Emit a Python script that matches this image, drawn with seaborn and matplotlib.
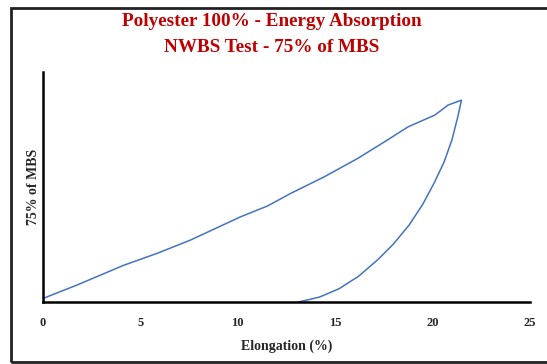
import numpy as np
import pandas as pd
import matplotlib
matplotlib.use("Agg")
import matplotlib.pyplot as plt
import seaborn as sns
from matplotlib.patches import Rectangle

# loading branch then unloading branch (elongation %, load as % of axis height)
load_x = [0.0, 1.74, 4.14, 5.86, 7.58, 10.15, 11.53, 12.73, 14.45, 16.17, 17.54, 18.75, 20.12, 20.81, 21.49]
load_y = [1.6, 7.4, 16.0, 21.2, 27.0, 37.1, 41.8, 47.3, 54.5, 62.5, 69.7, 76.2, 81.3, 85.7, 87.8]
unload_x = [21.49, 21.3, 21.0, 20.6, 20.1, 19.5, 18.8, 18.0, 17.2, 16.2, 15.2, 14.2, 13.6, 13.08]
unload_y = [87.8, 80.5, 70.5, 61.0, 52.0, 42.5, 33.5, 25.3, 18.5, 11.2, 5.8, 2.2, 1.0, 0.0]
xticks = [0, 5, 10, 15, 20, 25]

df = pd.DataFrame({
    "elong": load_x + unload_x,
    "load": load_y + unload_y,
})

sns.set_theme(style="white")
plt.rcParams["font.family"] = ["Liberation Serif", "DejaVu Serif"]

fig = plt.figure(figsize=(5.47, 3.64), dpi=100)
ax = fig.add_axes([0.0786, 0.170, 0.890, 0.632])

sns.lineplot(data=df, x="elong", y="load", sort=False, estimator=None,
             color="#4472C4", linewidth=1.1, ax=ax)

ax.set_xlim(0, 25)
ax.set_ylim(0, 100)
ax.set_xticks(xticks)
ax.set_xticklabels([str(t) for t in xticks], fontsize=9, fontweight="bold")
ax.set_yticks([])
ax.tick_params(axis="x", length=0, pad=11)
for s in ["top", "right"]:
    ax.spines[s].set_visible(False)
for s in ["left", "bottom"]:
    ax.spines[s].set_color("black")
    ax.spines[s].set_linewidth(1.8)

ax.set_xlabel("Elongation (%)", fontsize=10, fontweight="bold", labelpad=7)
ax.set_ylabel("75% of MBS", fontsize=10, fontweight="bold", labelpad=2)

fig.text(0.497, 1 - 22 / 364, "Polyester 100% - Energy Absorption", ha="center", va="center",
         fontsize=13.8, fontweight="bold", color="#C00000")
fig.text(0.497, 1 - 47 / 364, "NWBS Test - 75% of MBS", ha="center", va="center",
         fontsize=13.8, fontweight="bold", color="#C00000")

# outer frame
fig.patches.append(Rectangle((11 / 547, 2 / 364), 1.2, 354 / 364, transform=fig.transFigure,
                             fill=False, edgecolor="#222222", linewidth=2))

fig.savefig("out.png", dpi=100)
